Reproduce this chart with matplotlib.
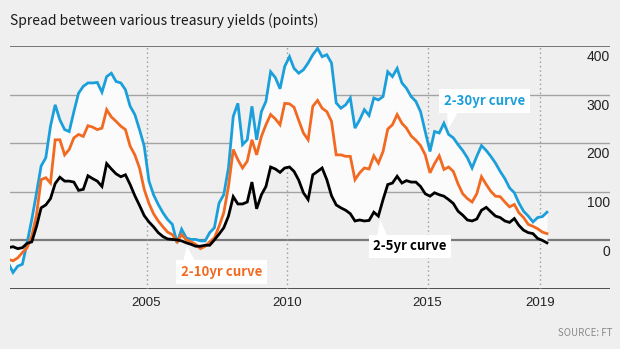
import matplotlib
matplotlib.use("Agg")
import matplotlib.pyplot as plt
import matplotlib.font_manager as fm
import matplotlib.dates as mdates
from matplotlib.patches import Polygon
import pandas as pd

# ---------------- data (bi-monthly readings, basis points) ----------------
dates = pd.date_range("2000-02-01", "2019-04-01", freq="2MS")

curve_2_30 = [
    -47, -66, -53, -49, -5, 43, 98, 153, 170, 235, 279, 248, 228, 224, 265, 303, 317, 324, 324, 325,
    305, 337, 344, 327, 324, 310, 276, 259, 228, 194, 122, 94, 74, 57, 43, 33, -5, 23, 5,
    2, 2, -1, -1, 16, 26, 77, 94, 149, 255, 282, 197, 207, 276, 207, 265, 286, 347, 335, 312,
    358, 378, 354, 344, 351, 365, 382, 395, 378, 382, 365, 283, 272, 279, 293, 231, 248, 269, 257,
    293, 289, 296, 347, 337, 354, 324, 313, 296, 286, 265, 224, 183, 224, 221, 241, 218, 211, 197,
    185, 170, 149, 173, 195, 185, 173, 159, 142, 127, 108, 98, 77, 60, 50, 38, 47, 49, 58,
]
curve_2_10 = [
    -39, -42, -36, -25, -15, 9, 53, 125, 129, 118, 207, 207, 176, 187, 211, 218, 214, 236, 233, 228,
    231, 269, 254, 245, 235, 228, 194, 176, 149, 105, 76, 55, 40, 28, 17, 12, -3, 12, 1,
    -3, -8, -17, -12, -3, 5, 29, 57, 111, 187, 166, 149, 163, 207, 176, 214, 238, 259, 250, 238,
    282, 281, 274, 247, 221, 207, 276, 288, 272, 265, 245, 176, 176, 173, 173, 125, 139, 149, 147,
    174, 159, 183, 229, 238, 259, 241, 231, 215, 206, 195, 176, 139, 158, 174, 146, 151, 142, 116,
    96, 86, 79, 96, 131, 115, 101, 91, 90, 79, 69, 74, 57, 47, 33, 29, 24, 17, 14,
]
curve_2_5 = [
    -15, -13, -17, -15, -6, -3, 29, 67, 73, 86, 117, 130, 122, 122, 120, 103, 105, 133, 127, 122,
    111, 158, 147, 137, 131, 135, 115, 92, 72, 51, 38, 28, 16, 8, 3, 2, 1, -1, -5,
    -8, -12, -12, -10, -10, 1, 13, 26, 50, 90, 75, 75, 79, 120, 65, 94, 111, 151, 147, 140,
    149, 151, 142, 124, 98, 84, 135, 142, 149, 125, 92, 73, 67, 62, 55, 40, 42, 40, 41,
    58, 50, 84, 115, 118, 132, 118, 123, 120, 120, 111, 96, 91, 98, 94, 91, 84, 76, 60,
    52, 42, 40, 44, 62, 68, 59, 50, 47, 40, 37, 45, 31, 21, 16, 14, 4, 0, -5,
]

y_ticks = [400, 300, 200, 100, 0]
x_tick_years = [2005, 2010, 2015, 2019]
title = "Spread between various treasury yields (points)"
source = "SOURCE: FT"

# ---------------- fonts ----------------
names = {f.name for f in fm.fontManager.ttflist}
NARROW = "Noto Sans CJK JP" if "Noto Sans CJK JP" in names else "Roboto"
REG = "Liberation Sans" if "Liberation Sans" in names else "DejaVu Sans"


def fp(size, weight="normal"):
    return fm.FontProperties(family=NARROW, size=size, weight=weight)


def fr(size, weight="normal"):
    return fm.FontProperties(family=REG, size=size, weight=weight)


BLUE = "#1b9fdb"
ORANGE = "#f26a22"
BLACK = "#000000"
BG = "#efefef"

# ---------------- figure ----------------
W, H = 620, 349
fig = plt.figure(figsize=(W / 100, H / 100), dpi=100, facecolor=BG)
ax = fig.add_axes([10 / W, 1 - 289 / H, 600 / W, 243 / H])
ax.set_facecolor(BG)


def yr(y):
    return mdates.date2num(pd.Timestamp("2000-01-01")) + (y - 2000) * 365.25


ax.set_xlim(yr(2000.142), yr(2021.49))
ax.set_ylim(-100, 400)
for s in ax.spines.values():
    s.set_visible(False)

# grid lines
for v in y_ticks:
    if v == 400:
        ax.axhline(v, color="#555555", lw=1.1, zorder=1)
    elif v == 0:
        ax.axhline(v, color="#7a7a7a", lw=1.6, zorder=1)
    else:
        ax.axhline(v, color="#a3a3a3", lw=1.0, zorder=1)
ax.axhline(-100, color="#333333", lw=1.2, zorder=1)

for y in x_tick_years:
    ax.axvline(yr(y), color="#9a9a9a", lw=1.0, ls=(0, (1, 2.2)), zorder=1)

# fill between outer curves
ax.fill_between(dates, curve_2_30, curve_2_5, color="#fbfbfb", lw=0, zorder=2)

ax.plot(dates, curve_2_30, color=BLUE, lw=2.0, zorder=3, solid_joinstyle="miter")
ax.plot(dates, curve_2_10, color=ORANGE, lw=2.0, zorder=4, solid_joinstyle="miter")
ax.plot(dates, curve_2_5, color=BLACK, lw=2.0, zorder=5, solid_joinstyle="miter")

# x tick labels
ax.set_xticks([yr(y) for y in x_tick_years])
ax.set_xticklabels([str(y) for y in x_tick_years])
for lab in ax.get_xticklabels():
    lab.set_fontproperties(fr(9.5))
    lab.set_color("#222222")
ax.tick_params(axis="x", length=0, pad=6)
ax.set_yticks([])

# right-hand y labels
for v in y_ticks:
    ax.annotate(str(v), xy=(1.0, v), xycoords=("axes fraction", "data"),
                xytext=(0, -3), textcoords="offset points", ha="right", va="top",
                fontproperties=fr(10), color="#222222", annotation_clip=False)

# curve labels with pointers
labels = [
    ("2-30yr curve", BLUE, 2017.03, 287,
     [(2015.69, 265), (2016.09, 265), (2015.73, 228)]),
    ("2-10yr curve", ORANGE, 2007.67, -65,
     [(2006.30, -43), (2006.73, -43), (2006.44, -12)]),
    ("2-5yr curve", BLACK, 2014.38, -12,
     [(2013.20, 6), (2013.59, 6), (2013.31, 43)]),
]
for txt, col, xl, yl, tri in labels:
    ax.add_patch(Polygon([(yr(a), b) for a, b in tri], closed=True, facecolor="white",
                         edgecolor="none", zorder=6))
    ax.text(yr(xl), yl, txt, color=col, ha="center", va="center", zorder=7,
            fontproperties=fp(9.5, "bold"),
            bbox=dict(boxstyle="square,pad=0.35", fc="white", ec="none"))

fig.text(10 / W, 1 - 25 / H, title, ha="left", va="baseline",
         fontproperties=fp(10), color="#1a1a1a")
fig.text(612 / W, 1 - 333 / H, source, ha="right", va="center",
         fontproperties=fp(7), color="#8a8a8a")

fig.savefig("out.png", dpi=100, facecolor=BG)
